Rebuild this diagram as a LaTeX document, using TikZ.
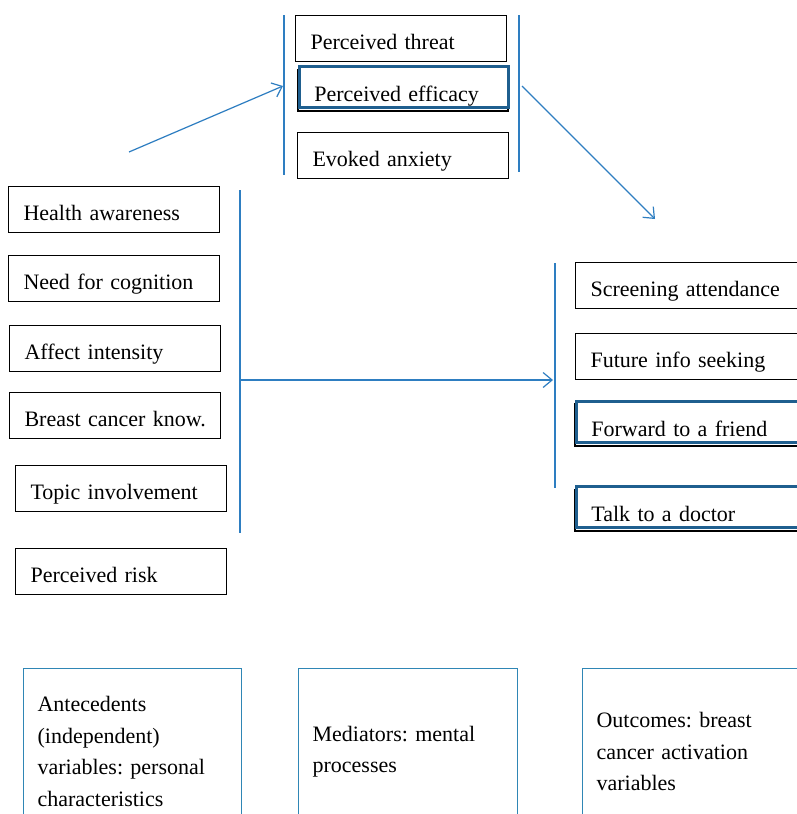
\documentclass[tikz,border=0pt]{standalone}
\usepackage{fontspec}
\setmainfont{Liberation Serif}
\frenchspacing
\usetikzlibrary{arrows.meta}
\definecolor{linkblue}{HTML}{2E7EC1}
\definecolor{hiblue}{HTML}{1F5F8F}
\definecolor{keyblue}{HTML}{2F86B5}
\tikzset{
  varbox/.style={draw=black, line width=1.1pt, fill=white, anchor=north west, align=left,
    text width=#1, inner xsep=15pt, inner ysep=0pt, text height=34pt, text depth=12pt},
  varbox/.default=181pt,
  hibox/.style={draw=hiblue, line width=2.8pt, text height=35pt, text depth=6pt},
  keybox/.style={draw=keyblue, line width=1.2pt, anchor=north west, align=left,
    text width=#1, inner xsep=14pt, minimum height=166pt},
  bar/.style={draw=linkblue, line width=1.2pt},
  link/.style={bar, -{Straight Barb[length=9pt,width=15pt,line width=1.2pt]}}
}
\begin{document}
\begin{tikzpicture}[x=1pt,y=-1pt,font=\fontsize{22}{31.5}\selectfont]
\useasboundingbox (0,0) rectangle (797,814);

% mediators
\node[varbox] (threat) at (295,15) {Perceived threat};
\draw[line width=1.1pt] (298,70) rectangle (508,111);
\node[varbox=179pt,hibox] (efficacy) at (298,65) {Perceived efficacy};
\node[varbox] (anxiety) at (297,132) {Evoked anxiety};
\coordinate (medLT) at (284,15);  \coordinate (medLB) at (284,175);
\coordinate (medRT) at (519,15);  \coordinate (medRB) at (519,172);
\draw[bar] (medLT) -- (medLB);
\draw[bar] (medRT) -- (medRB);

% antecedents
\node[varbox] (aware) at (8,186) {Health awareness};
\node[varbox] (cognition) at (8,255) {Need for cognition};
\node[varbox] (affect) at (9,325) {Affect intensity};
\node[varbox] (know) at (9,392) {\mbox{Breast cancer know.}};
\node[varbox] (involve) at (15,465) {Topic involvement};
\node[varbox] (risk) at (15,548) {Perceived risk};
\coordinate (antT) at (240,190);  \coordinate (antB) at (240,533);
\draw[bar] (antT) -- (antB);

% outcomes
\node[varbox=197pt] (screen) at (575,262) {Screening attendance};
\node[varbox=197pt] (seek) at (575,333) {Future info seeking};
\draw[line width=1.1pt] (575,404) rectangle (800,446);
\node[varbox=197pt,hibox] (forward) at (575,400) {Forward to a friend};
\draw[line width=1.1pt] (575,490) rectangle (800,531);
\node[varbox=197pt,hibox] (doctor) at (575,485) {Talk to a doctor};
\coordinate (outT) at (555,263);  \coordinate (outB) at (555,488);
\draw[bar] (outT) -- (outB);

% paths
\coordinate (antTip) at (129,152);
\coordinate (medIn) at (283,86);
\coordinate (medOut) at (522,86);
\coordinate (outTip) at (655,219);
\coordinate (antM) at (240,380);
\coordinate (outM) at (553,380);
\draw[link] (antTip) -- (medIn);
\draw[link] (medOut) -- (outTip);
\draw[link] (antM) -- (outM);

% key
\node[keybox=190pt] (keyAnt) at (23,668) {Antecedents\\(independent)\\variables: personal\\characteristics};
\node[keybox=191pt] (keyMed) at (298,668) {Mediators: mental\\processes};
\node[keybox=200pt] (keyOut) at (582,668) {Outcomes: breast\\cancer activation\\variables};
\end{tikzpicture}
\end{document}
